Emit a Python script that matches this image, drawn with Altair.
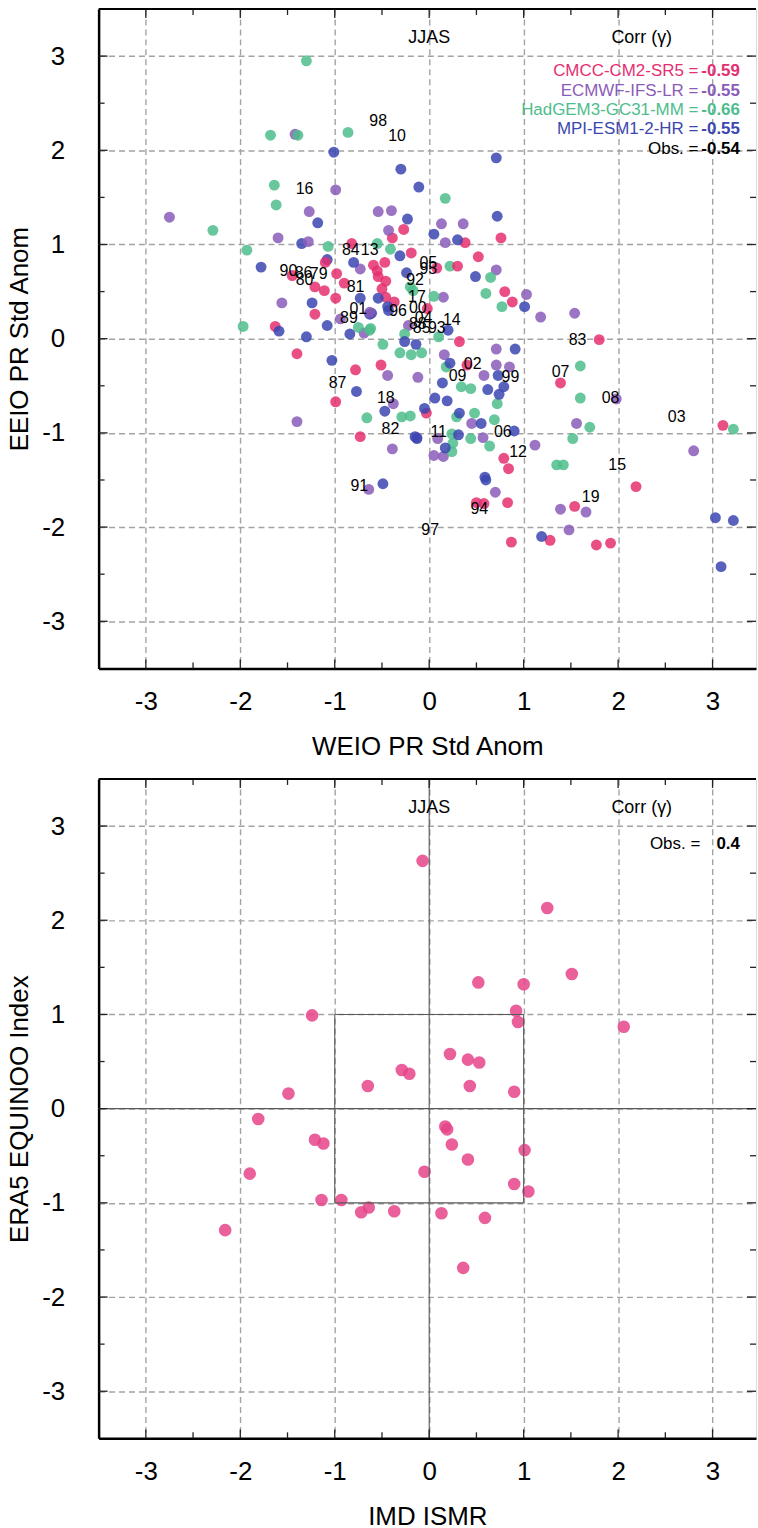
import altair as alt
import pandas as pd

FONT = "Liberation Sans"

# ---------------- top panel data (model members) ----------------
CMCC_X = [-0.27, -0.39, -0.82, -0.19, -0.59, -0.98, -1.45, -1.21, -1.11, -0.90, -0.99, -1.21, -1.63, -1.10,
          -0.47, -0.54, -0.46, -0.50, -0.46, -0.37, -0.02, -1.40, -0.78, -0.51, -0.99, -0.03, -0.73, 0.38,
          0.76, 0.52, 0.30, 0.08, 0.80, 0.88, 0.32, 0.40, 0.79, 0.84, 1.80, 1.39, 3.11, 2.19, 0.50, 0.58,
          0.83, 1.54, 1.28, 0.87, 1.77, 1.92, -0.55]
CMCC_Y = [1.16, 1.07, 1.01, 0.91, 0.78, 0.69, 0.67, 0.55, 0.51, 0.59, 0.43, 0.26, 0.13, 0.81,
          0.81, 0.66, 0.61, 0.53, 0.44, 0.39, 0.32, -0.16, -0.33, -0.28, -0.67, -0.79, -1.04, 1.02,
          1.07, 0.87, 0.77, 0.75, 0.50, 0.39, -0.03, -0.28, -1.27, -1.38, -0.01, -0.47, -0.92, -1.57, -1.74, -1.75,
          -1.74, -1.78, -2.14, -2.16, -2.19, -2.17, 0.72]

ECMWF_X = [-1.42, -0.99, -2.75, -1.27, -0.54, -0.40, -0.43, -1.60, -1.28, -0.73, -1.56, -0.69, -0.94, -0.22,
           -0.44, -0.12, -0.38, -1.40, -0.39, -0.64, -0.13, 0.13, 0.36, 0.17, 0.71, 1.03, 0.15, 1.18,
           1.54, 0.71, 0.16, 0.71, 0.85, 0.58, 0.45, 0.09, 0.57, 0.05, 0.15, 1.12, 1.98, 1.56,
           2.80, 0.70, 1.39, 1.66, 1.48, -0.63]
ECMWF_Y = [2.17, 1.58, 1.29, 1.35, 1.35, 1.36, 1.15, 1.07, 1.03, 0.74, 0.38, 0.06, 0.21, 0.14,
           -0.39, -0.41, -0.69, -0.88, -1.17, -1.60, -1.05, 1.22, 1.22, 1.02, 0.73, 0.47, 0.44, 0.23,
           0.27, -0.11, -0.17, -0.28, -0.30, -0.39, -0.90, -1.06, -1.05, -1.24, -1.25, -1.13, -0.64, -0.90,
           -1.19, -1.63, -1.81, -1.84, -2.03, 0.28]

HADGEM_X = [-1.30, -1.68, -1.39, -0.86, -1.64, -1.62, -2.29, -1.07, -1.93, -0.55, -0.41, -1.97, -0.62, -0.75,
            -0.63, -0.26, -0.49, -0.31, -0.19, -0.08, -0.20, -0.17, -0.66, -0.29, -0.20, 0.17, 0.22, 0.65,
            0.60, 0.77, 0.18, 0.34, 0.44, 0.72, 0.29, 0.48, 0.69, 0.24, 0.44, 0.64, 0.25, 0.24,
            1.35, 1.42, 1.60, 1.60, 1.70, 1.52, 3.22, 0.05, 0.10]
HADGEM_Y = [2.95, 2.16, 2.16, 2.19, 1.63, 1.42, 1.15, 0.98, 0.94, 1.01, 0.95, 0.13, 0.11, 0.12,
            0.09, 0.05, -0.06, -0.15, -0.17, -0.15, 0.55, 0.51, -0.84, -0.83, -0.82, 1.49, 0.77, 0.65,
            0.48, 0.34, -0.30, -0.51, -0.53, -0.69, -0.83, -0.79, -0.86, -1.01, -1.06, -1.14, -1.11, -1.20,
            -1.34, -1.34, -0.29, -0.63, -0.94, -1.06, -0.96, 0.45, 0.02]

MPI_X = [-1.01, -0.30, -0.11, -1.18, -0.23, -1.35, -0.31, -1.08, -1.78, -0.80, -1.24, -0.73, -0.61, -1.59,
         -1.30, -1.08, -0.84, -0.43, -0.54, -0.44, -0.24, -0.63, -0.26, -0.14, -1.03, -0.77, -0.47, -0.05,
         -0.15, -0.49, 0.72, 0.05, 0.30, 0.49, 1.01, 0.20, 0.91, 0.22, 0.73, 0.14, 0.62, 0.79,
         0.74, 0.06, 0.19, 0.32, 0.55, 0.31, 0.90, 0.17, 0.59, 0.71, 0.60, 3.03, 3.22, 1.19,
         3.09, -0.13]
MPI_Y = [1.98, 1.80, 1.61, 1.23, 1.27, 1.01, 0.88, 0.84, 0.76, 0.81, 0.38, 0.43, 0.27, 0.08,
         0.02, 0.14, 0.05, 0.30, 0.43, 0.34, 0.70, 0.26, -0.03, -0.06, -0.23, -0.56, -0.77, -0.74,
         -1.04, -1.54, 1.30, 1.11, 1.05, 0.66, 0.34, 0.09, -0.11, -0.26, -0.39, -0.47, -0.54, -0.51,
         -0.59, -0.63, -0.66, -0.79, -0.90, -1.02, -0.98, -1.16, -1.47, 1.92, -1.50, -1.90, -1.93, -2.10,
         -2.42, -1.06]

MODELS = ["CMCC-CM2-SR5", "ECMWF-IFS-LR", "HadGEM3-GC31-MM", "MPI-ESM1-2-HR"]
COLORS = ["#e52f70", "#8a5cb8", "#4dbd8c", "#3b46b0"]
CORRS = ["-0.59", "-0.55", "-0.66", "-0.55"]
OBS_CORR_TOP = "-0.54"

# observed years (labels) for top panel
YEAR_LAB = ["98", "10", "16", "84", "13", "90", "86", "79", "80", "81", "01", "89", "96", "92", "17", "00",
            "04", "88", "85", "93", "14", "05", "95", "87", "18", "82", "91", "97", "94", "83", "07", "08",
            "03", "02", "09", "99", "11", "06", "12", "15", "19"]
YEAR_X = [-0.54, -0.34, -1.32, -0.83, -0.63, -1.49, -1.33, -1.17, -1.32, -0.78, -0.75, -0.85, -0.33, -0.15,
          -0.13, -0.12, -0.06, -0.12, -0.08, 0.08, 0.24, -0.01, -0.01, -0.97, -0.46, -0.41, -0.74, 0.01,
          0.53, 1.57, 1.39, 1.92, 2.62, 0.46, 0.30, 0.86, 0.10, 0.78, 0.94, 1.99, 1.71]
YEAR_Y = [2.31, 2.15, 1.59, 0.94, 0.94, 0.72, 0.70, 0.69, 0.62, 0.55, 0.32, 0.22, 0.29, 0.62,
          0.44, 0.33, 0.22, 0.16, 0.11, 0.11, 0.20, 0.80, 0.74, -0.47, -0.63, -0.96, -1.56, -2.03,
          -1.81, -0.01, -0.35, -0.63, -0.83, -0.27, -0.40, -0.41, -0.99, -0.99, -1.20, -1.34, -1.68]

# ---------------- bottom panel data ----------------
ISMR = [-0.07, -1.24, -0.29, -0.21, -0.65, -1.49, 1.25, 1.51, 0.52, 1.00, 0.92, 0.94, 2.06, 0.22,
        0.41, 0.53, 0.43, 0.90, -1.81, -1.21, -1.12, -1.90, -1.14, -0.93, -0.72, -0.64, -0.37, -2.16,
        -0.05, 0.17, 0.19, 0.24, 0.41, 1.01, 0.90, 1.05, 0.13, 0.59, 0.36]
EQUINOO = [2.63, 0.99, 0.41, 0.37, 0.24, 0.16, 2.13, 1.43, 1.34, 1.32, 1.04, 0.92, 0.87, 0.58,
           0.52, 0.49, 0.24, 0.18, -0.11, -0.33, -0.37, -0.69, -0.97, -0.97, -1.10, -1.05, -1.09, -1.29,
           -0.67, -0.19, -0.22, -0.38, -0.54, -0.44, -0.80, -0.88, -1.11, -1.16, -1.69]
OBS_CORR_BOT = "0.4"

# ---------------- helpers ----------------
W, H = 660, 662
XD = [-3.5, 3.46]
YD = [-3.5, 3.5]
MAJOR = [-3, -2, -1, 0, 1, 2, 3]
MINOR = [-2.5, -1.5, -0.5, 0.5, 1.5, 2.5]


def xsc():
    return alt.Scale(domain=XD, nice=False, zero=False)


def ysc():
    return alt.Scale(domain=YD, nice=False, zero=False)


def xaxis(title):
    return alt.Axis(values=MAJOR, grid=True, gridDash=[6, 4], gridColor="#a3a3a3", gridWidth=1.4,
                    domain=True, domainColor="black", domainWidth=2.5, ticks=False,
                    labelExpr="'' + datum.value", labelFont=FONT, labelFontSize=26, labelColor="black",
                    labelPadding=20, title=title, titleFont=FONT, titleFontSize=26,
                    titleFontWeight="normal", titleColor="black", titlePadding=19)


def yaxis(title):
    return alt.Axis(values=MAJOR, grid=True, gridDash=[6, 4], gridColor="#a3a3a3", gridWidth=1.4,
                    domain=True, domainColor="black", domainWidth=2.5, ticks=False,
                    labelExpr="'' + datum.value", labelFont=FONT, labelFontSize=26, labelColor="black",
                    labelPadding=34, title=title, titleFont=FONT, titleFontSize=26,
                    titleFontWeight="normal", titleColor="black", titlePadding=9)


class Panel:
    def __init__(self, xt, yt):
        self.xa = xaxis(xt)
        self.ya = yaxis(yt)

    def X(self, f="x"):
        return alt.X(f + ":Q", scale=xsc(), axis=self.xa)

    def Y(self, f="y"):
        return alt.Y(f + ":Q", scale=ysc(), axis=self.ya)

    def frame_layers(self):
        maj = pd.DataFrame({"v": MAJOR})
        mnr = pd.DataFrame({"v": MINOR})
        layers = []
        for df, ln in ((maj, 9), (mnr, 6)):
            layers.append(alt.Chart(df).mark_rule(color="#222", strokeWidth=1.3).encode(
                x=self.X("v"), y=alt.value(0), y2=alt.value(ln)))
            layers.append(alt.Chart(df).mark_rule(color="#222", strokeWidth=1.3).encode(
                x=self.X("v"), y=alt.value(H - ln), y2=alt.value(H)))
            layers.append(alt.Chart(df).mark_rule(color="#222", strokeWidth=1.3).encode(
                y=self.Y("v"), x=alt.value(0), x2=alt.value(ln)))
            layers.append(alt.Chart(df).mark_rule(color="#222", strokeWidth=1.3).encode(
                y=self.Y("v"), x=alt.value(W - ln), x2=alt.value(W)))
        layers.append(alt.Chart(pd.DataFrame({"v": [0]})).mark_rule(color="black", strokeWidth=2).encode(
            y=alt.value(0), x=alt.value(0), x2=alt.value(W)))
        return layers

    def txt(self, df, size, color="black", align="center", weight="normal"):
        return alt.Chart(df).mark_text(font=FONT, fontSize=size, color=color, align=align,
                                       fontWeight=weight, baseline="middle").encode(
            x=self.X(), y=self.Y(), text="t:N")


# ---------------- top panel ----------------
P1 = Panel("WEIO PR Std Anom", "EEIO PR Std Anom")
rows = []
series = [(CMCC_X, CMCC_Y), (ECMWF_X, ECMWF_Y), (HADGEM_X, HADGEM_Y), (MPI_X, MPI_Y)]
maxn = max(len(s[0]) for s in series)
for i in range(maxn):
    for m, (sx, sy) in zip(MODELS, series):
        if i < len(sx):
            rows.append({"x": sx[i], "y": sy[i], "model": m, "order": len(rows)})
pts = pd.DataFrame(rows)

top_points = alt.Chart(pts).mark_circle(size=120, opacity=0.85).encode(
    x=P1.X(), y=P1.Y(),
    color=alt.Color("model:N", scale=alt.Scale(domain=MODELS, range=COLORS), legend=None),
    order="order:Q")

years_df = pd.DataFrame({"x": YEAR_X, "y": YEAR_Y, "t": YEAR_LAB})
top_years = P1.txt(years_df, 16)

hdr_top = pd.DataFrame({"x": [0.0, 2.25], "y": [3.19, 3.19], "t": ["JJAS", "Corr (γ)"]})
leg_y = [2.84, 2.63, 2.43, 2.23, 2.01]
leg_layers = []
for i, m in enumerate(MODELS):
    leg_layers.append(P1.txt(pd.DataFrame({"x": [2.85], "y": [leg_y[i]], "t": [m + " ="]}), 17,
                             color=COLORS[i], align="right"))
    leg_layers.append(P1.txt(pd.DataFrame({"x": [3.29], "y": [leg_y[i]], "t": [CORRS[i]]}), 17,
                             color=COLORS[i], align="right", weight="bold"))
leg_layers.append(P1.txt(pd.DataFrame({"x": [2.85], "y": [leg_y[4]], "t": ["Obs. ="]}), 17, align="right"))
leg_layers.append(P1.txt(pd.DataFrame({"x": [3.29], "y": [leg_y[4]], "t": [OBS_CORR_TOP]}), 17,
                         align="right", weight="bold"))

top = alt.layer(top_points, *P1.frame_layers(), top_years, P1.txt(hdr_top, 18), *leg_layers).properties(
    width=W, height=H)

# ---------------- bottom panel ----------------
P2 = Panel("IMD ISMR", "ERA5 EQUINOO Index")
seg = pd.DataFrame({
    "x": [-1, 1, 1, -1, XD[0], 0],
    "x2": [1, 1, -1, -1, XD[1], 0],
    "y": [-1, -1, 1, 1, 0, YD[0]],
    "y2": [-1, 1, 1, -1, 0, YD[1]],
})
bot_lines = alt.Chart(seg).mark_rule(color="#5a5a5a", strokeWidth=1.1).encode(
    x=P2.X(), x2="x2:Q", y=P2.Y(), y2="y2:Q")

bot_df = pd.DataFrame({"x": ISMR, "y": EQUINOO})
bot_points = alt.Chart(bot_df).mark_circle(size=160, opacity=0.85, color="#e5448a").encode(
    x=P2.X(), y=P2.Y())

hdr_bot = pd.DataFrame({"x": [0.0, 2.25], "y": [3.19, 3.19], "t": ["JJAS", "Corr (γ)"]})
bot_obs = [P2.txt(pd.DataFrame({"x": [2.87], "y": [2.81], "t": ["Obs. ="]}), 17, align="right"),
           P2.txt(pd.DataFrame({"x": [3.29], "y": [2.81], "t": [OBS_CORR_BOT]}), 17, align="right",
                  weight="bold")]

bottom = alt.layer(bot_points, bot_lines, *P2.frame_layers(), P2.txt(hdr_bot, 18), *bot_obs).properties(
    width=W, height=H)

chart = alt.vconcat(top, bottom, spacing=17).properties(
    padding={"left": 6, "top": 4, "right": 0, "bottom": 0}
).configure_view(stroke=None, fill="#f4f4f4").configure(background="white")

chart.save("out.html", embed_options={"renderer": "svg", "actions": False})
